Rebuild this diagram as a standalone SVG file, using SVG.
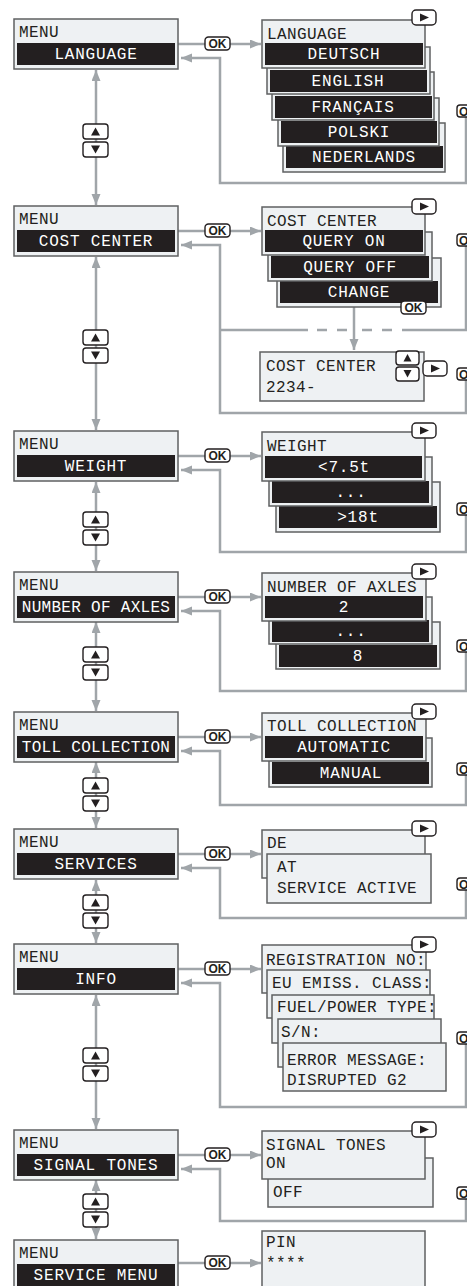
<svg xmlns="http://www.w3.org/2000/svg" width="467" height="1286" viewBox="0 0 467 1286">
<defs>
<style>
.box{fill:#eef1f3;stroke:#5f6062;stroke-width:1.5}
.bar{fill:#231f20}
.t{font-family:"Liberation Mono","DejaVu Sans Mono",monospace;font-size:16px;fill:#231f20;letter-spacing:0.4px}
.w{fill:#ffffff;letter-spacing:0.8px}
.m{text-anchor:middle}
.btn{fill:#ffffff;stroke:#231f20;stroke-width:1.4}
.ok{font-family:"Liberation Sans",Arial,sans-serif;font-weight:bold;font-size:12px;fill:#231f20}
.c{fill:none;stroke:#a0a5a9;stroke-width:2.5}
.tri{fill:#231f20}
</style>
<marker id="ah" markerUnits="userSpaceOnUse" markerWidth="12" markerHeight="10" refX="11" refY="4.5" orient="auto-start-reverse"><path d="M0,0 L11,4.5 L0,9 z" fill="#a0a5a9"/></marker>
<symbol id="ud" overflow="visible">
<rect class="btn" x="0" y="0" width="25" height="15" rx="3"/>
<path class="tri" d="M12.5,3.5 L17,11.5 L8,11.5 z"/>
<rect class="btn" x="0" y="18" width="25" height="15" rx="3"/>
<path class="tri" d="M12.5,29.5 L17,21.5 L8,21.5 z"/>
</symbol>
<symbol id="play" overflow="visible">
<rect class="btn" x="0" y="0" width="24" height="15" rx="4"/>
<path class="tri" d="M8,3.5 L17,7.5 L8,11.5 z"/>
</symbol>
<symbol id="okb" overflow="visible">
<rect class="btn" x="0" y="0" width="25" height="13" rx="3.5"/>
<text class="ok" x="12.5" y="11" text-anchor="middle">OK</text>
</symbol>
<symbol id="okcut" overflow="visible">
<rect class="btn" x="0" y="0" width="16" height="12" rx="3"/>
<text class="ok" x="2" y="10.5">O</text>
</symbol>
</defs>

<g id="connectors">
<path class="c" d="M96,70 V205" marker-start="url(#ah)" marker-end="url(#ah)"/>
<path class="c" d="M96,257 V430" marker-start="url(#ah)" marker-end="url(#ah)"/>
<path class="c" d="M96,482 V571" marker-start="url(#ah)" marker-end="url(#ah)"/>
<path class="c" d="M96,622 V711" marker-start="url(#ah)" marker-end="url(#ah)"/>
<path class="c" d="M96,762 V828" marker-start="url(#ah)" marker-end="url(#ah)"/>
<path class="c" d="M96,880 V943" marker-start="url(#ah)" marker-end="url(#ah)"/>
<path class="c" d="M96,995 V1129" marker-start="url(#ah)" marker-end="url(#ah)"/>
<path class="c" d="M96,1180 V1239" marker-start="url(#ah)" marker-end="url(#ah)"/>
<path class="c" d="M178,44 H205"/><path class="c" d="M230,44 H261" marker-end="url(#ah)"/>
<path class="c" d="M178,231 H205"/><path class="c" d="M230,231 H261" marker-end="url(#ah)"/>
<path class="c" d="M178,456 H205"/><path class="c" d="M230,456 H261" marker-end="url(#ah)"/>
<path class="c" d="M178,597 H205"/><path class="c" d="M230,597 H261" marker-end="url(#ah)"/>
<path class="c" d="M178,737 H205"/><path class="c" d="M230,737 H261" marker-end="url(#ah)"/>
<path class="c" d="M178,854 H205"/><path class="c" d="M230,854 H261" marker-end="url(#ah)"/>
<path class="c" d="M178,969 H205"/><path class="c" d="M230,969 H261" marker-end="url(#ah)"/>
<path class="c" d="M178,1155 H205"/><path class="c" d="M230,1155 H261" marker-end="url(#ah)"/>
<path class="c" d="M178,1263 H205"/><path class="c" d="M230,1263 H261" marker-end="url(#ah)"/>
<path class="c" d="M466,117 V183 H220 V58 H181" marker-end="url(#ah)"/>
<path class="c" d="M466,246 V330 H402"/>
<path class="c" d="M392,330 H382 M372,330 H362 M347,330 H337 M327,330 H317"/>
<path class="c" d="M308,330 H220"/>
<path class="c" d="M354,307 V350" marker-end="url(#ah)"/>
<path class="c" d="M466,380 V413 H220 V245 H181" marker-end="url(#ah)"/>
<path class="c" d="M466,515 V552 H220 V470 H181" marker-end="url(#ah)"/>
<path class="c" d="M466,652 V691 H220 V611 H181" marker-end="url(#ah)"/>
<path class="c" d="M466,775 V805 H220 V751 H181" marker-end="url(#ah)"/>
<path class="c" d="M466,890 V918 H220 V868 H181" marker-end="url(#ah)"/>
<path class="c" d="M466,1044 V1107 H220 V983 H181" marker-end="url(#ah)"/>
<path class="c" d="M466,1199 V1221 H220 V1169 H181" marker-end="url(#ah)"/>
</g>

<g id="buttons">
<use href="#ud" x="83" y="124"/>
<use href="#ud" x="83" y="330"/>
<use href="#ud" x="83" y="512"/>
<use href="#ud" x="83" y="647"/>
<use href="#ud" x="83" y="778"/>
<use href="#ud" x="83" y="895"/>
<use href="#ud" x="83" y="1048"/>
<use href="#ud" x="83" y="1194"/>
<use href="#okb" x="205" y="37"/>
<use href="#okb" x="205" y="224"/>
<use href="#okb" x="205" y="449"/>
<use href="#okb" x="205" y="590"/>
<use href="#okb" x="205" y="730"/>
<use href="#okb" x="205" y="847"/>
<use href="#okb" x="205" y="962"/>
<use href="#okb" x="205" y="1148"/>
<use href="#okb" x="205" y="1256"/>
<use href="#okcut" x="457" y="105"/>
<use href="#okcut" x="457" y="234"/>
<use href="#okcut" x="457" y="368"/>
<use href="#okcut" x="457" y="503"/>
<use href="#okcut" x="457" y="640"/>
<use href="#okcut" x="457" y="763"/>
<use href="#okcut" x="457" y="878"/>
<use href="#okcut" x="457" y="1032"/>
<use href="#okcut" x="457" y="1187"/>
</g>

<g id="menu-language"><rect class="box" x="14" y="19" width="164" height="50"/><rect class="bar" x="17" y="43" width="158" height="22"/><text class="t" x="19" y="37">MENU</text><text class="t w m" x="96" y="59">LANGUAGE</text></g>
<g id="menu-costcenter"><rect class="box" x="14" y="206" width="164" height="50"/><rect class="bar" x="17" y="230" width="158" height="22"/><text class="t" x="19" y="224">MENU</text><text class="t w m" x="96" y="246">COST CENTER</text></g>
<g id="menu-weight"><rect class="box" x="14" y="431" width="164" height="50"/><rect class="bar" x="17" y="455" width="158" height="22"/><text class="t" x="19" y="449">MENU</text><text class="t w m" x="96" y="471">WEIGHT</text></g>
<g id="menu-axles"><rect class="box" x="14" y="572" width="164" height="50"/><rect class="bar" x="17" y="596" width="158" height="22"/><text class="t" x="19" y="590">MENU</text><text class="t w m" x="96" y="612" style="letter-spacing:0.3px">NUMBER OF AXLES</text></g>
<g id="menu-toll"><rect class="box" x="14" y="712" width="164" height="50"/><rect class="bar" x="17" y="736" width="158" height="22"/><text class="t" x="19" y="730">MENU</text><text class="t w m" x="96" y="752" style="letter-spacing:0.3px">TOLL COLLECTION</text></g>
<g id="menu-services"><rect class="box" x="14" y="829" width="164" height="50"/><rect class="bar" x="17" y="853" width="158" height="22"/><text class="t" x="19" y="847">MENU</text><text class="t w m" x="96" y="869">SERVICES</text></g>
<g id="menu-info"><rect class="box" x="14" y="944" width="164" height="50"/><rect class="bar" x="17" y="968" width="158" height="22"/><text class="t" x="19" y="962">MENU</text><text class="t w m" x="96" y="984">INFO</text></g>
<g id="menu-signal"><rect class="box" x="14" y="1130" width="164" height="50"/><rect class="bar" x="17" y="1154" width="158" height="22"/><text class="t" x="19" y="1148">MENU</text><text class="t w m" x="96" y="1170">SIGNAL TONES</text></g>
<g id="menu-servicemenu"><rect class="box" x="14" y="1240" width="164" height="52"/><rect class="bar" x="17" y="1264" width="158" height="24"/><text class="t" x="19" y="1258">MENU</text><text class="t w m" x="96" y="1280">SERVICE MENU</text></g>

<g id="panel-language">
<rect class="box" x="283" y="123" width="162" height="49"/><rect class="bar" x="286" y="146" width="157" height="22"/><text class="t w m" x="364" y="162">NEDERLANDS</text>
<rect class="box" x="278" y="98" width="161" height="48"/><rect class="bar" x="281" y="121" width="156" height="22"/><text class="t w m" x="359" y="137">POLSKI</text>
<rect class="box" x="272" y="72" width="162" height="48"/><rect class="bar" x="275" y="96" width="157" height="22"/><text class="t w m" x="353" y="112">FRANÇAIS</text>
<rect class="box" x="267" y="47" width="163" height="47"/><rect class="bar" x="270" y="70" width="157" height="22"/><text class="t w m" x="348" y="86">ENGLISH</text>
<rect class="box" x="262" y="20" width="163" height="48"/><rect class="bar" x="265" y="43" width="158" height="22"/><text class="t w m" x="344" y="59">DEUTSCH</text>
<text class="t" x="267" y="39">LANGUAGE</text>
<use href="#play" x="412" y="10"/>
</g>

<g id="panel-costcenter">
<rect class="box" x="277" y="258" width="164" height="49"/><rect class="bar" x="280" y="281" width="158" height="22"/><text class="t w m" x="359" y="297">CHANGE</text>
<rect class="box" x="268" y="232" width="164" height="49"/><rect class="bar" x="271" y="256" width="158" height="22"/><text class="t w m" x="350" y="272">QUERY OFF</text>
<rect class="box" x="262" y="207" width="163" height="48"/><rect class="bar" x="265" y="230" width="158" height="22"/><text class="t w m" x="344" y="246">QUERY ON</text>
<text class="t" x="267" y="226">COST CENTER</text>
<use href="#play" x="412" y="199"/>
<use href="#okb" x="401" y="301"/>
</g>
<g id="panel-costcenter-entry">
<rect class="box" x="260" y="352" width="164" height="49"/>
<text class="t" x="266" y="371">COST CENTER</text>
<text class="t" x="266" y="392">2234-</text>
<rect class="btn" x="396" y="351" width="23" height="14" rx="3"/><path class="tri" d="M407.5,354 L411.5,361.5 L403.5,361.5 z"/>
<rect class="btn" x="396" y="367" width="23" height="14" rx="3"/><path class="tri" d="M407.5,377.5 L411.5,370 L403.5,370 z"/>
<use href="#play" x="423" y="361"/>
</g>

<g id="panel-weight">
<rect class="box" x="276" y="482" width="164" height="50"/><rect class="bar" x="279" y="506" width="158" height="22"/><text class="t w m" x="358" y="522">&gt;18t</text>
<rect class="box" x="269" y="457" width="163" height="49"/><rect class="bar" x="272" y="481" width="157" height="22"/><text class="t w m" x="351" y="497">...</text>
<rect class="box" x="262" y="432" width="163" height="49"/><rect class="bar" x="265" y="456" width="157" height="22"/><text class="t w m" x="344" y="472">&lt;7.5t</text>
<text class="t" x="267" y="451">WEIGHT</text>
<use href="#play" x="412" y="423"/>
</g>

<g id="panel-axles">
<rect class="box" x="276" y="622" width="164" height="47"/><rect class="bar" x="279" y="645" width="158" height="22"/><text class="t w m" x="358" y="661">8</text>
<rect class="box" x="269" y="597" width="163" height="47"/><rect class="bar" x="272" y="620" width="157" height="22"/><text class="t w m" x="351" y="636">...</text>
<rect class="box" x="262" y="573" width="164" height="48"/><rect class="bar" x="265" y="596" width="158" height="22"/><text class="t w m" x="344" y="612">2</text>
<text class="t" x="267" y="592">NUMBER OF AXLES</text>
<use href="#play" x="412" y="564"/>
</g>

<g id="panel-toll">
<rect class="box" x="269" y="738" width="163" height="49"/><rect class="bar" x="272" y="762" width="157" height="22"/><text class="t w m" x="351" y="778">MANUAL</text>
<rect class="box" x="262" y="713" width="164" height="48"/><rect class="bar" x="265" y="736" width="158" height="22"/><text class="t w m" x="344" y="752">AUTOMATIC</text>
<text class="t" x="267" y="731">TOLL COLLECTION</text>
<use href="#play" x="412" y="704"/>
</g>

<g id="panel-services">
<rect class="box" x="262" y="830" width="163" height="48"/>
<text class="t" x="267" y="848">DE</text>
<rect class="box" x="267" y="854" width="164" height="49"/>
<text class="t" x="277" y="872">AT</text>
<text class="t" x="277" y="893">SERVICE ACTIVE</text>
<use href="#play" x="412" y="821"/>
</g>

<g id="panel-info">
<rect class="box" x="262" y="945" width="164" height="48"/><text class="t" x="266" y="965">REGISTRATION NO:</text>
<rect class="box" x="267" y="970" width="163" height="48"/><text class="t" x="272" y="988">EU EMISS. CLASS:</text>
<rect class="box" x="272" y="995" width="162" height="48"/><text class="t" x="277" y="1012">FUEL/POWER TYPE:</text>
<rect class="box" x="278" y="1019" width="163" height="48"/><text class="t" x="281" y="1037">S/N:</text>
<rect class="box" x="283" y="1043" width="163" height="48"/><text class="t" x="287" y="1065">ERROR MESSAGE:</text><text class="t" x="287" y="1085">DISRUPTED G2</text>
<use href="#play" x="412" y="937"/>
</g>

<g id="panel-signal">
<rect class="box" x="268" y="1158" width="165" height="49"/><text class="t" x="273" y="1197">OFF</text>
<rect class="box" x="262" y="1131" width="163" height="48"/>
<text class="t" x="266" y="1150">SIGNAL TONES</text>
<text class="t" x="266" y="1168">ON</text>
<use href="#play" x="412" y="1122"/>
</g>

<g id="panel-pin">
<rect class="box" x="262" y="1231" width="163" height="60"/>
<text class="t" x="266" y="1247">PIN</text>
<text class="t" x="266" y="1268">****</text>
</g>
</svg>
